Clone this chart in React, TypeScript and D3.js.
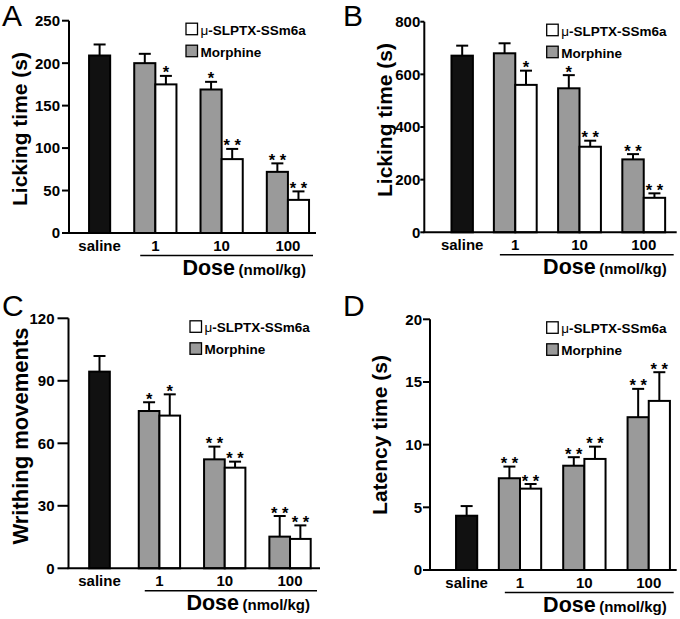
import React from "react";
import * as d3 from "d3";

const FONT = "'Liberation Sans', Arial, Helvetica, sans-serif";

// ---- data ----
const doses = ["1", "10", "100"];
const salineLabel = "saline";

// Panel A: Licking time (s) (first phase)
const aSaline = 209;
const aSalineSem = 13;
const aMorphine = [200, 169, 72];
const aMorphineSem = [11, 9, 10];
const aPeptide = [175, 87, 39];
const aPeptideSem = [10, 12, 10];
const aMorphineStars = ["", "*", "* *"];
const aPeptideStars = ["*", "* *", "* *"];
const aTicks = [0, 50, 100, 150, 200, 250];

// Panel B: Licking time (s) (second phase)
const bSaline = 671;
const bSalineSem = 38;
const bMorphine = [680, 547, 277];
const bMorphineSem = [38, 50, 20];
const bPeptide = [560, 325, 131];
const bPeptideSem = [54, 23, 17];
const bMorphineStars = ["", "*", "* *"];
const bPeptideStars = ["*", "* *", "* *"];
const bTicks = [0, 200, 400, 600, 800];

// Panel C: Writhing movements
const cSaline = 94.4;
const cSalineSem = 7.5;
const cMorphine = [75.5, 52.3, 15.2];
const cMorphineSem = [4.2, 6.1, 9.9];
const cPeptide = [73.3, 48.3, 14.1];
const cPeptideSem = [10.2, 2.9, 6.5];
const cMorphineStars = ["*", "* *", "* *"];
const cPeptideStars = ["*", "* *", "* *"];
const cTicks = [0, 30, 60, 90, 120];

// Panel D: Latency time (s)
const dSaline = 4.33;
const dSalineSem = 0.77;
const dMorphine = [7.32, 8.32, 12.19];
const dMorphineSem = [0.93, 0.68, 2.26];
const dPeptide = [6.49, 8.86, 13.49];
const dPeptideSem = [0.37, 0.98, 2.29];
const dMorphineStars = ["* *", "* *", "* *"];
const dPeptideStars = ["* *", "* *", "* *"];
const dTicks = [0, 5, 10, 15, 20];

const legendLabels = ["SLPTX-SSm6a", "Morphine"];
const doseTitle = "Dose";
const doseUnit = "(nmol/kg)";

type PanelProps = {
  letter: string;
  letterX: number;
  letterY: number;
  ylabel: string;
  ylabelX: number;
  ylabelY: number;
  ylabelSize: number;
  axisX: number;
  axisEnd: number;
  top: number;
  bottom: number;
  leftPad: number;
  salineGap: number;
  gap: number;
  rightPad: number;
  tickLen: number;
  labelGap: number;
  ticks: number[];
  saline: number;
  salineSem: number;
  morphine: number[];
  morphineSem: number[];
  peptide: number[];
  peptideSem: number[];
  morphineStars: string[];
  peptideStars: string[];
};

const GRAY = "#9a9a9a";

function Panel(p: PanelProps) {
  const total = p.leftPad + 1 + p.salineGap + 6 + 2 * p.gap + p.rightPad;
  const x = d3.scaleLinear().domain([0, total]).range([p.axisX, p.axisEnd]);
  const yMax = p.ticks[p.ticks.length - 1];
  const y = d3.scaleLinear().domain([0, yMax]).range([p.bottom, p.top]);
  const bw = x(1) - x(0);

  type Bar = { start: number; v: number; sem: number; fill: string; star: string };
  const bars: Bar[] = [
    { start: p.leftPad, v: p.saline, sem: p.salineSem, fill: "#111", star: "" },
  ];
  const groupStarts: number[] = [];
  doses.forEach((_, i) => {
    const gs = p.leftPad + 1 + p.salineGap + i * (2 + p.gap);
    groupStarts.push(gs);
    bars.push({ start: gs, v: p.morphine[i], sem: p.morphineSem[i], fill: GRAY, star: p.morphineStars[i] });
    bars.push({ start: gs + 1, v: p.peptide[i], sem: p.peptideSem[i], fill: "#fff", star: p.peptideStars[i] });
  });

  const lineStart = x(groupStarts[0]) + 6;
  const lineEnd = p.axisEnd - 3;
  const legX = p.axisEnd - 130;
  const legY = p.top + 2.5;

  return (
    <g fontFamily={FONT}>
      <text x={p.letterX} y={p.letterY} fontSize={30} fill="#000">
        {p.letter}
      </text>
      <text
        transform={`translate(${p.ylabelX},${p.ylabelY}) rotate(-90)`}
        textAnchor="middle"
        fontSize={p.ylabelSize}
        fontWeight="bold"
      >
        {p.ylabel}
      </text>
      {/* bars */}
      {bars.map((b, i) => {
        const cx = x(b.start + 0.5);
        const yt = y(b.v);
        const ye = y(b.v + b.sem);
        return (
          <g key={i}>
            <line x1={cx} x2={cx} y1={yt} y2={ye} stroke="#000" strokeWidth={2} />
            <line x1={cx - 6} x2={cx + 6} y1={ye} y2={ye} stroke="#000" strokeWidth={2} />
            <rect
              x={x(b.start)}
              y={yt}
              width={bw}
              height={p.bottom - yt}
              fill={b.fill}
              stroke="#000"
              strokeWidth={2}
            />
            {b.star && (
              <text x={cx} y={ye + 2.5} textAnchor="middle" fontSize={16.5} fontWeight="bold" style={{ whiteSpace: "pre" }}>
                {b.star}
              </text>
            )}
          </g>
        );
      })}
      {/* axes */}
      <line x1={p.axisX} x2={p.axisX} y1={p.top} y2={p.bottom} stroke="#000" strokeWidth={2} />
      <line x1={p.axisX - 1} x2={p.axisEnd} y1={p.bottom} y2={p.bottom} stroke="#000" strokeWidth={2} />
      {p.ticks.map((t) => (
        <g key={t}>
          <line x1={p.axisX - p.tickLen} x2={p.axisX} y1={y(t)} y2={y(t)} stroke="#000" strokeWidth={2} />
          <text x={p.axisX - p.labelGap} y={y(t)} dy="0.36em" textAnchor="end" fontSize={15} fontWeight="bold">
            {t}
          </text>
        </g>
      ))}
      {/* x labels */}
      <text x={x(p.leftPad + 0.5)} y={p.bottom + 17.5} textAnchor="middle" fontSize={15} fontWeight="bold">
        {salineLabel}
      </text>
      {doses.map((d, i) => (
        <text key={d} x={x(groupStarts[i] + 1)} y={p.bottom + 17.5} textAnchor="middle" fontSize={15} fontWeight="bold">
          {d}
        </text>
      ))}
      <line x1={lineStart} x2={lineEnd} y1={p.bottom + 22.5} y2={p.bottom + 22.5} stroke="#000" strokeWidth={1.5} />
      <text x={lineEnd - 78} y={p.bottom + 42} textAnchor="end" fontWeight="bold" fontSize={21.5}>
        {doseTitle}
      </text>
      <text x={lineEnd - 7} y={p.bottom + 42} textAnchor="end" fontWeight="bold" fontSize={15}>
        {doseUnit}
      </text>
      {/* legend */}
      <rect x={legX} y={legY} width={11.5} height={11.5} fill="#fff" stroke="#000" strokeWidth={1.3} />
      <text x={legX + 14.5} y={legY + 11.5} fontSize={13.5}>
        <tspan>μ</tspan>
        <tspan fontWeight="bold">-{legendLabels[0]}</tspan>
      </text>
      <rect x={legX} y={legY + 22} width={11.5} height={11.5} fill={GRAY} stroke="#000" strokeWidth={1.3} />
      <text x={legX + 14.5} y={legY + 33.5} fontSize={13.5} fontWeight="bold">
        {legendLabels[1]}
      </text>
    </g>
  );
}

export default function App() {
  return (
    <svg
      width={680}
      height={619}
      viewBox="0 0 680 619"
      style={{ position: "absolute", left: 0, top: 0, background: "#fff" }}
    >
      <rect width={680} height={619} fill="#fff" />
      <Panel
        letter="A" letterX={2} letterY={26}
        ylabel="Licking time (s)" ylabelX={27} ylabelY={129} ylabelSize={21}
        axisX={69} axisEnd={316} top={20.7} bottom={233}
        leftPad={0.95} salineGap={1.14} gap={1.14} rightPad={0.33}
        tickLen={7} labelGap={9}
        ticks={aTicks}
        saline={aSaline} salineSem={aSalineSem}
        morphine={aMorphine} morphineSem={aMorphineSem}
        peptide={aPeptide} peptideSem={aPeptideSem}
        morphineStars={aMorphineStars} peptideStars={aPeptideStars}
      />
      <Panel
        letter="B" letterX={343} letterY={26}
        ylabel="Licking time (s)" ylabelX={392} ylabelY={120} ylabelSize={21}
        axisX={424.3} axisEnd={676.7} top={21.7} bottom={232.3}
        leftPad={1.27} salineGap={0.98} gap={1.0} rightPad={0.54}
        tickLen={4} labelGap={4}
        ticks={bTicks}
        saline={bSaline} salineSem={bSalineSem}
        morphine={bMorphine} morphineSem={bMorphineSem}
        peptide={bPeptide} peptideSem={bPeptideSem}
        morphineStars={bMorphineStars} peptideStars={bPeptideStars}
      />
      <Panel
        letter="C" letterX={2} letterY={316}
        ylabel="Writhing movements" ylabelX={28} ylabelY={436} ylabelSize={22}
        axisX={68.5} axisEnd={320} top={318.3} bottom={568.3}
        leftPad={1.0} salineGap={1.4} gap={1.16} rightPad={0.45}
        tickLen={11} labelGap={14}
        ticks={cTicks}
        saline={cSaline} salineSem={cSalineSem}
        morphine={cMorphine} morphineSem={cMorphineSem}
        peptide={cPeptide} peptideSem={cPeptideSem}
        morphineStars={cMorphineStars} peptideStars={cPeptideStars}
      />
      <Panel
        letter="D" letterX={343} letterY={316}
        ylabel="Latency time (s)" ylabelX={387} ylabelY={435} ylabelSize={21}
        axisX={430} axisEnd={676.7} top={319.3} bottom={570}
        leftPad={1.23} salineGap={1.02} gap={1.04} rightPad={0.32}
        tickLen={7} labelGap={8}
        ticks={dTicks}
        saline={dSaline} salineSem={dSalineSem}
        morphine={dMorphine} morphineSem={dMorphineSem}
        peptide={dPeptide} peptideSem={dPeptideSem}
        morphineStars={dMorphineStars} peptideStars={dPeptideStars}
      />
    </svg>
  );
}
